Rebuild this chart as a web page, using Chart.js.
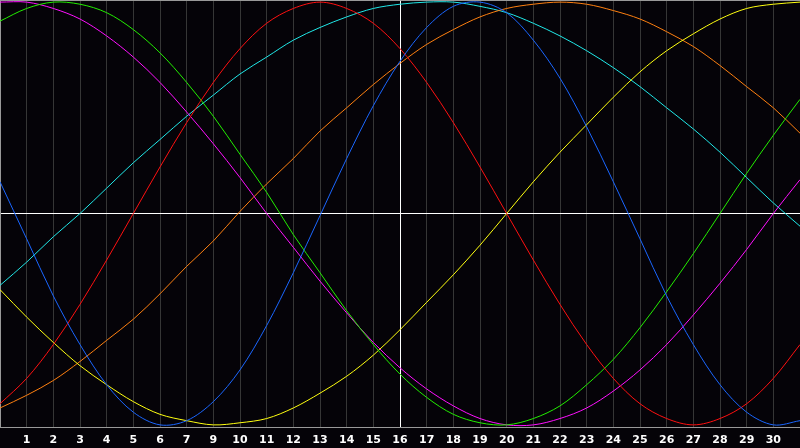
<!DOCTYPE html>
<html>
<head>
<meta charset="utf-8">
<script src="https://cdn.jsdelivr.net/npm/chart.js@4"></script>
<style>
  html, body { margin: 0; padding: 0; background: #050308; }
  #wrap { width: 800px; height: 448px; }
</style>
</head>
<body>
<div id="wrap"><canvas id="chart-bio" width="800" height="448"></canvas></div>
<script>
// ============================================
// biorhythm chart - 30 days, 7 cycles
// ============================================

// grid positions (day index) and the labels printed under them (no "8" in the source)
const DAYS = [0, 1, 2, 3, 4, 5, 6, 7, 8, 9, 10, 11, 12, 13, 14, 15, 16, 17, 18, 19, 20, 21, 22, 23, 24, 25, 26, 27, 28, 29, 30];
const DAY_LABELS = ['', '1', '2', '3', '4', '5', '6', '7', '9', '10', '11', '12', '13', '14', '15', '16', '17', '18', '19', '20', '21', '22', '23', '24', '25', '26', '27', '28', '29', '30', ''];

// values, one per day
const physical = [0.15, -0.12, -0.39, -0.62, -0.81, -0.94, -1.00, -0.98, -0.89, -0.74, -0.53, -0.28, -0.01, 0.26, 0.51, 0.72, 0.88, 0.98, 1.00, 0.95, 0.82, 0.64, 0.41, 0.15, -0.12, -0.39, -0.62, -0.81, -0.94, -1.00, -0.98];
const emotional = [-0.90, -0.78, -0.62, -0.43, -0.22, 0, 0.22, 0.43, 0.62, 0.78, 0.90, 0.97, 1.00, 0.97, 0.90, 0.78, 0.62, 0.43, 0.22, 0, -0.22, -0.43, -0.62, -0.78, -0.90, -0.97, -1.00, -0.97, -0.90, -0.78, -0.62];
const intellectual = [0.91, 0.97, 1.00, 0.99, 0.95, 0.87, 0.76, 0.62, 0.46, 0.28, 0.10, -0.10, -0.28, -0.46, -0.62, -0.76, -0.87, -0.95, -0.99, -1.00, -0.97, -0.91, -0.81, -0.69, -0.54, -0.37, -0.19, 0, 0.19, 0.37, 0.54];
const intuitive = [1.00, 1.00, 0.97, 0.92, 0.84, 0.74, 0.62, 0.48, 0.33, 0.17, 0.00, -0.16, -0.32, -0.47, -0.61, -0.73, -0.83, -0.91, -0.97, -1.00, -1.00, -0.97, -0.92, -0.84, -0.74, -0.62, -0.48, -0.33, -0.17, 0.00, 0.16];
const aesthetic = [-0.36, -0.49, -0.61, -0.72, -0.81, -0.89, -0.95, -0.98, -1.00, -0.99, -0.97, -0.92, -0.85, -0.77, -0.67, -0.55, -0.42, -0.29, -0.15, 0, 0.15, 0.29, 0.42, 0.55, 0.67, 0.77, 0.85, 0.92, 0.97, 0.99, 1.00];
const awareness = [-0.92, -0.86, -0.79, -0.70, -0.60, -0.50, -0.38, -0.25, -0.13, 0.01, 0.14, 0.26, 0.39, 0.50, 0.61, 0.71, 0.80, 0.87, 0.93, 0.97, 0.99, 1.00, 0.99, 0.96, 0.92, 0.86, 0.79, 0.70, 0.60, 0.50, 0.38];
const spiritual = [-0.34, -0.23, -0.11, 0.00, 0.12, 0.24, 0.35, 0.46, 0.56, 0.66, 0.74, 0.82, 0.88, 0.93, 0.97, 0.99, 1.00, 1.00, 0.98, 0.95, 0.90, 0.84, 0.77, 0.69, 0.60, 0.50, 0.40, 0.29, 0.17, 0.05, -0.06];

const COLORS = {
    bg: '#050308',
    grid: '#363636',
    frame: '#999999',
    axis: '#ffffff',
    physical: '#1a66ff',
    emotional: '#ff1010',
    intellectual: '#22ee00',
    intuitive: '#ff10ff',
    aesthetic: '#ffff10',
    awareness: '#ff8010',
    spiritual: '#20e8e8'
};

const series = [
    { label: 'Physical', values: physical, color: COLORS.physical },
    { label: 'Emotional', values: emotional, color: COLORS.emotional },
    { label: 'Intellectual', values: intellectual, color: COLORS.intellectual },
    { label: 'Intuitive', values: intuitive, color: COLORS.intuitive },
    { label: 'Aesthetic', values: aesthetic, color: COLORS.aesthetic },
    { label: 'Awareness', values: awareness, color: COLORS.awareness },
    { label: 'Spiritual', values: spiritual, color: COLORS.spiritual }
];

// paint the whole canvas black first
const bgPlugin = {
    id: 'bg',
    beforeDraw(chart) {
        const ctx = chart.ctx;
        ctx.save();
        ctx.fillStyle = COLORS.bg;
        ctx.fillRect(0, 0, chart.width, chart.height);
        ctx.restore();
    }
};

new Chart(document.getElementById('chart-bio'), {
    type: 'line',
    data: {
        datasets: series.map(s => ({
            label: s.label,
            data: DAYS.map((d, i) => ({ x: d, y: s.values[i] })),
            borderColor: s.color,
            borderWidth: 1,
            pointRadius: 0,
            tension: 0.33,
            fill: false
        }))
    },
    options: {
        responsive: false,
        animation: false,
        devicePixelRatio: 1,
        layout: { padding: 0 },
        plugins: {
            legend: { display: false },
            tooltip: { enabled: false }
        },
        scales: {
            x: {
                type: 'linear',
                min: 0,
                max: 30,
                afterBuildTicks: s => { s.ticks = DAYS.map(v => ({ value: v })); },
                // plot runs edge to edge, no side padding
                afterFit: s => { s.height = 21; s.paddingLeft = 0; s.paddingRight = 0; },
                ticks: {
                    autoSkip: false,
                    maxRotation: 0,
                    padding: 7,
                    color: COLORS.axis,
                    font: { family: 'DejaVu Sans', size: 11, weight: 'bold' },
                    callback: (v, i) => DAY_LABELS[i]
                },
                grid: {
                    drawTicks: false,
                    lineWidth: 1,
                    color: ctx => {
                        const v = ctx.tick ? ctx.tick.value : null;
                        if (v === 15) return COLORS.axis;
                        if (v === 0 || v === 30) return 'transparent';
                        return COLORS.grid;
                    }
                },
                border: { color: COLORS.frame }
            },
            y: {
                type: 'linear',
                min: -1.01,
                max: 1.01,
                afterBuildTicks: s => { s.ticks = [{ value: -1.01 }, { value: 0 }, { value: 1.01 }]; },
                afterFit: s => { s.width = 0; s.paddingTop = 0; s.paddingBottom = 0; },
                ticks: { display: false },
                grid: {
                    drawTicks: false,
                    lineWidth: 1,
                    color: ctx => (ctx.tick && ctx.tick.value === 0) ? COLORS.axis : COLORS.frame
                },
                border: { color: COLORS.frame }
            }
        }
    },
    plugins: [bgPlugin]
});
</script>
</body>
</html>
